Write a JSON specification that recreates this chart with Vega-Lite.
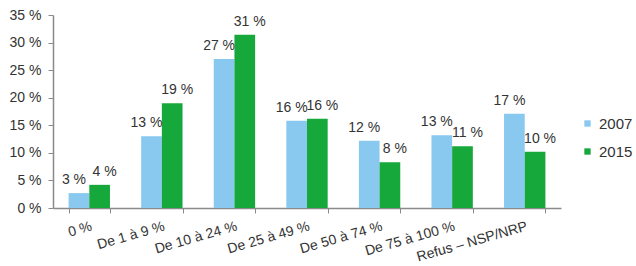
{
  "$schema": "https://vega.github.io/schema/vega-lite/v6.json",
  "autosize": {"type": "none"},
  "width": 508,
  "height": 193,
  "padding": {"left": 53, "top": 15, "right": 75, "bottom": 58},
  "background": "white",
  "config": {
    "view": {"stroke": null},
    "font": "Liberation Sans",
    "axis": {"labelColor": "#333333", "domainColor": "#8a8a8a", "tickColor": "#8a8a8a", "grid": false, "title": null}
  },
  "data": {
    "values": [
      {"cat": "0 %", "year": "2007", "value": 2.7, "label": "3 %"},
      {"cat": "0 %", "year": "2015", "value": 4.2, "label": "4 %"},
      {"cat": "De 1 à 9 %", "year": "2007", "value": 13.0, "label": "13 %"},
      {"cat": "De 1 à 9 %", "year": "2015", "value": 19.0, "label": "19 %"},
      {"cat": "De 10 à 24 %", "year": "2007", "value": 27.0, "label": "27 %"},
      {"cat": "De 10 à 24 %", "year": "2015", "value": 31.4, "label": "31 %"},
      {"cat": "De 25 à 49 %", "year": "2007", "value": 15.8, "label": "16 %"},
      {"cat": "De 25 à 49 %", "year": "2015", "value": 16.2, "label": "16 %"},
      {"cat": "De 50 à 74 %", "year": "2007", "value": 12.2, "label": "12 %"},
      {"cat": "De 50 à 74 %", "year": "2015", "value": 8.3, "label": "8 %"},
      {"cat": "De 75 à 100 %", "year": "2007", "value": 13.2, "label": "13 %"},
      {"cat": "De 75 à 100 %", "year": "2015", "value": 11.2, "label": "11 %"},
      {"cat": "Refus – NSP/NRP", "year": "2007", "value": 17.1, "label": "17 %"},
      {"cat": "Refus – NSP/NRP", "year": "2015", "value": 10.2, "label": "10 %"}
    ]
  },
  "encoding": {
    "x": {
      "field": "cat", "type": "nominal", "sort": null,
      "scale": {"paddingInner": 0.43, "paddingOuter": 0.215},
      "axis": {
        "labelAngle": -16, "labelAlign": "right", "labelBaseline": "top",
        "labelFontSize": 14, "labelPadding": 6, "labelLimit": 200,
        "tickBand": "extent", "tickSize": 5, "domainWidth": 1.5
      }
    },
    "xOffset": {"field": "year", "type": "nominal"},
    "y": {
      "field": "value", "type": "quantitative",
      "scale": {"domain": [0, 35], "nice": false},
      "axis": {"values": [0, 5, 10, 15, 20, 25, 30, 35], "labelExpr": "datum.value + ' %'", "labelFontSize": 14, "tickSize": 5, "labelPadding": 7, "domainWidth": 1.5}
    }
  },
  "layer": [
    {
      "mark": {"type": "bar"},
      "encoding": {
        "color": {
          "field": "year", "type": "nominal",
          "scale": {"domain": ["2007", "2015"], "range": ["#89c9ef", "#16a83a"]},
          "legend": {
            "title": null, "orient": "none", "legendX": 527, "legendY": 101,
            "symbolType": "square", "symbolSize": 40, "symbolStrokeWidth": 0,
            "labelFontSize": 15, "labelColor": "#333333", "labelOffset": 4, "rowPadding": 12, "padding": 0
          }
        }
      }
    },
    {
      "transform": [{"filter": "datum.year == '2007'"}],
      "mark": {"type": "text", "align": "center", "baseline": "alphabetic", "dy": -9, "dx": -5, "fontSize": 14, "color": "#333333"},
      "encoding": {"text": {"field": "label"}}
    },
    {
      "transform": [{"filter": "datum.year == '2015'"}],
      "mark": {"type": "text", "align": "center", "baseline": "alphabetic", "dy": -9, "dx": 5, "fontSize": 14, "color": "#333333"},
      "encoding": {"text": {"field": "label"}}
    }
  ]
}
